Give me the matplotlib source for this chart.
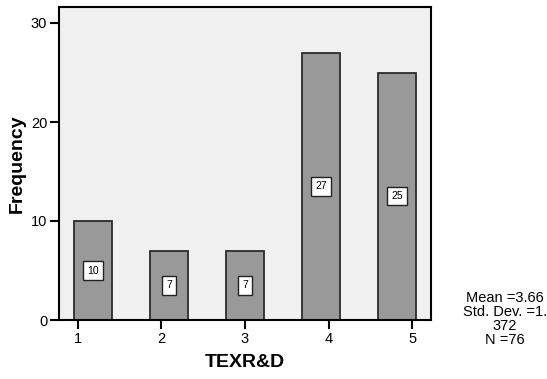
import numpy as np
import matplotlib.pyplot as plt

# data: TEXR&D frequency histogram
categories = [1, 2, 3, 4, 5]
counts = [10, 7, 7, 27, 25]
tick_labels = ['1', '2', '3', '4', '5']
y_ticks = [0, 10, 20, 30]
stats_text = 'Mean =3.66\nStd. Dev. =1.\n372\nN =76'

plt.rcParams['font.family'] = ['Liberation Sans', 'DejaVu Sans']

fig = plt.figure(figsize=(5.47, 3.79), dpi=100)
ax = fig.add_axes([59/547, 1-320/379, 372/547, 313/379])
ax.set_facecolor('#f0f0f0')

# bars
ax.bar(categories, counts, width=0.5, color='#999999', edgecolor='#2b2b2b', linewidth=1.3, zorder=2)

# value labels in white boxes at half bar height
for x, c in zip(categories, counts):
    ax.text(x, c / 2, str(c), ha='center', va='center', fontsize=7.5, zorder=3,
            bbox=dict(boxstyle='square,pad=0.4', facecolor='white', edgecolor='#222222', linewidth=1))

# SPSS style ticks sit on a slightly wider scale than the bars
tick_scale = 83.7 / 76
tick_pos = [3 + (v - 3) * tick_scale for v in categories]
ax.set_xticks(tick_pos)
ax.set_xticklabels(tick_labels)
ax.set_yticks(y_ticks)

ax.set_xlim(0.553, 5.447)
ax.set_ylim(0, 313 / 9.9)

ax.tick_params(axis='both', direction='out', length=6.5, width=1.5, labelsize=10.5, pad=2, color='black')
for s in ax.spines.values():
    s.set_linewidth(1.5)
    s.set_color('black')

ax.set_xlabel('TEXR&D', fontsize=14, fontweight='bold', labelpad=6)
ax.set_ylabel('Frequency', fontsize=14, fontweight='bold', labelpad=4)

fig.text(505/547, 1-319/379, stats_text, ha='center', va='center', fontsize=10.5, linespacing=1.0)

fig.savefig('out.png', dpi=100)
